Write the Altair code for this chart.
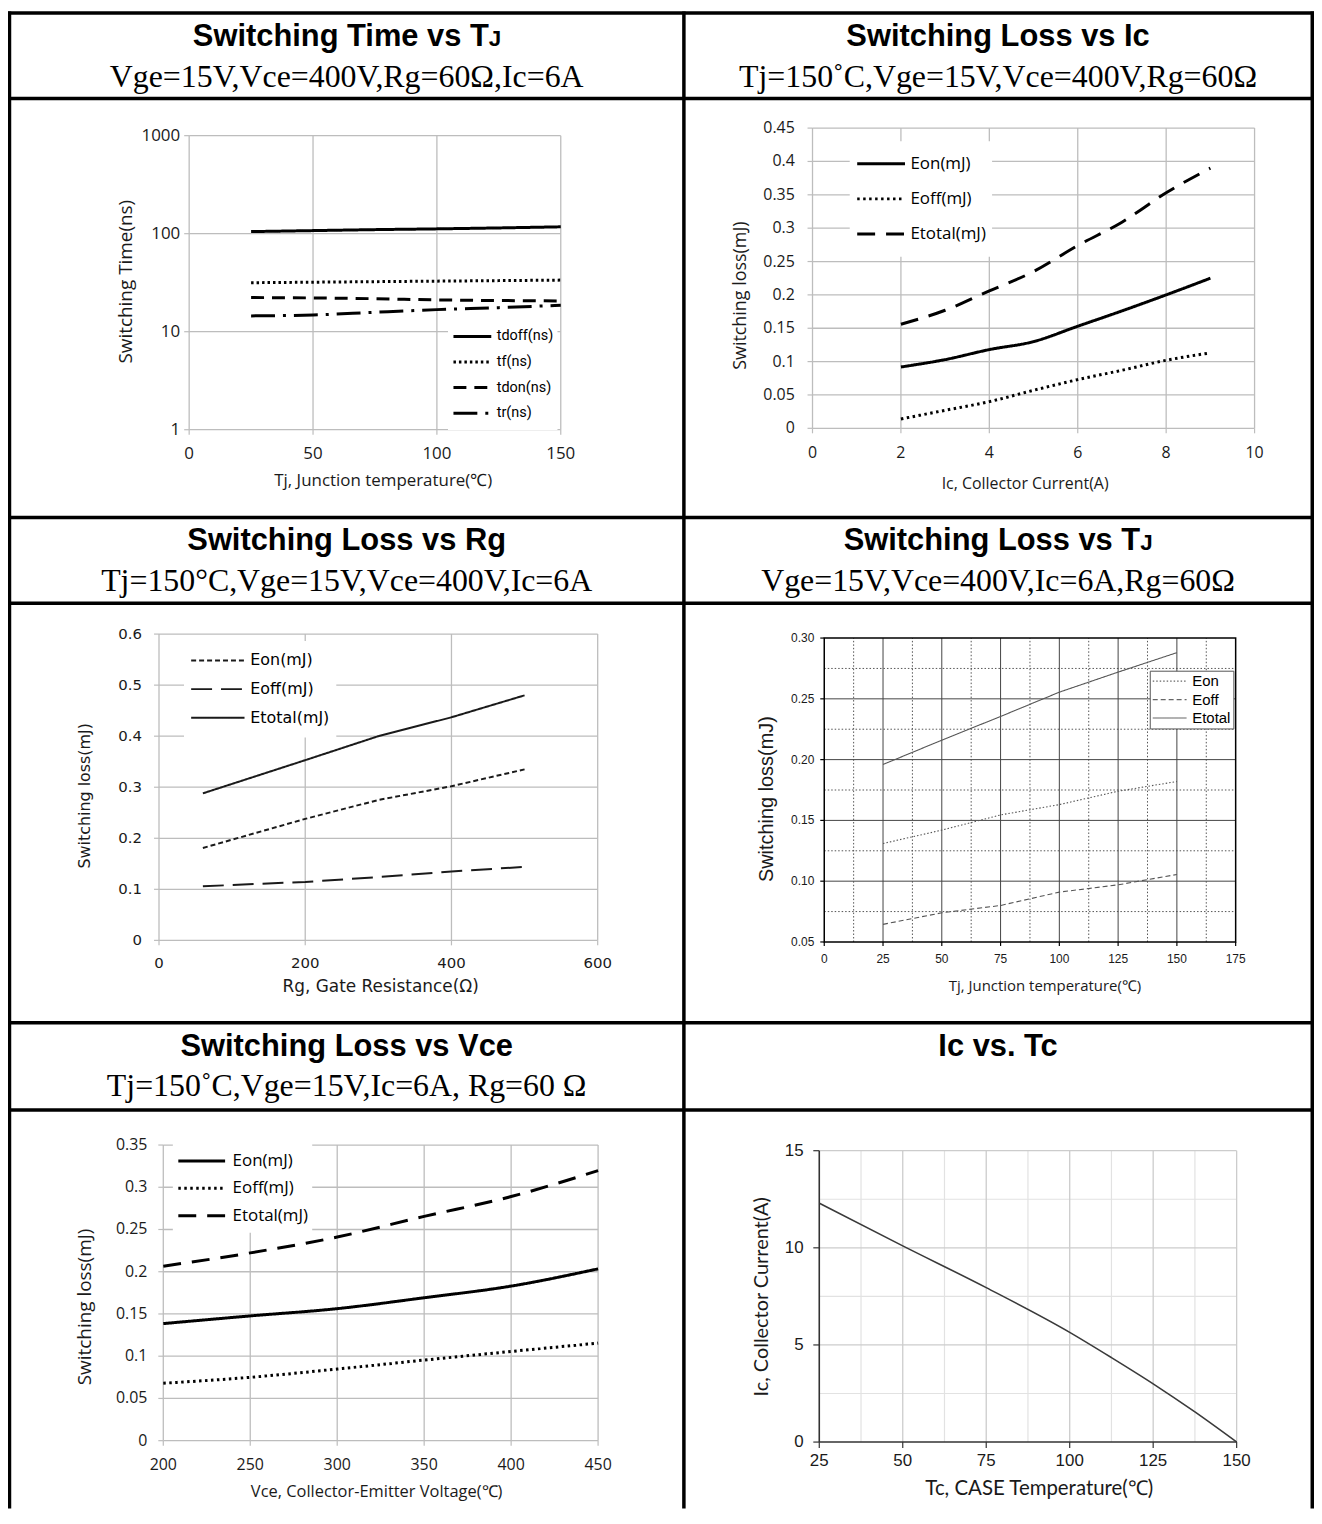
import altair as alt
import pandas as pd

W, H = 1312, 1504

# ---------------- header texts ----------------
TITLES = ["Switching Time vs T", "Switching Loss vs Ic", "Switching Loss vs Rg",
          "Switching Loss vs T", "Switching Loss vs Vce", "Ic vs. Tc"]
TITLE_SUFFIX = ["J", "", "", "J", "", ""]
SUBTITLES = ["Vge=15V,Vce=400V,Rg=60Ω,Ic=6A", "Tj=150˚C,Vge=15V,Vce=400V,Rg=60Ω",
             "Tj=150°C,Vge=15V,Vce=400V,Ic=6A", "Vge=15V,Vce=400V,Ic=6A,Rg=60Ω",
             "Tj=150˚C,Vge=15V,Ic=6A, Rg=60 Ω", ""]

# ---------------- panel 1: switching time vs Tj ----------------
P1_TJ = [25, 50, 75, 100, 125, 150]
P1_SERIES = ["tdoff(ns)", "tf(ns)", "tdon(ns)", "tr(ns)"]
P1_TDOFF = [105, 107.5, 110, 112, 114.5, 117.5]
P1_TF = [31.6, 32.0, 32.4, 32.8, 33.2, 33.6]
P1_TDON = [22.3, 22.1, 21.7, 21.1, 20.8, 20.6]
P1_TR = [14.5, 14.8, 15.8, 16.8, 17.6, 18.6]
P1_XTICKS = [0, 50, 100, 150]
P1_XLABELS = ["0", "50", "100", "150"]
P1_YTICKS = [1, 10, 100, 1000]
P1_YLABELS = ["1", "10", "100", "1000"]
P1_XTITLE = "Tj, Junction temperature(℃)"
P1_YTITLE = "Switching Time(ns)"

# ---------------- panel 2: switching loss vs Ic ----------------
P2_IC = [2, 3, 4, 5, 6, 7, 8, 9]
P2_SERIES = ["Eon(mJ)", "Eoff(mJ)", "Etotal(mJ)"]
P2_EON = [0.092, 0.103, 0.118, 0.130, 0.153, 0.176, 0.200, 0.225]
P2_EOFF = [0.014, 0.027, 0.040, 0.057, 0.073, 0.087, 0.102, 0.113]
P2_ETOTAL = [0.156, 0.177, 0.206, 0.235, 0.274, 0.309, 0.353, 0.390]
P2_XTICKS = [0, 2, 4, 6, 8, 10]
P2_XLABELS = ["0", "2", "4", "6", "8", "10"]
P2_YTICKS = [0, 0.05, 0.1, 0.15, 0.2, 0.25, 0.3, 0.35, 0.4, 0.45]
P2_YLABELS = ["0", "0.05", "0.1", "0.15", "0.2", "0.25", "0.3", "0.35", "0.4", "0.45"]
P2_XTITLE = "Ic, Collector Current(A)"
P2_YTITLE = "Switching loss(mJ)"

# ---------------- panel 3: switching loss vs Rg ----------------
P3_RG = [60, 200, 300, 400, 500]
P3_SERIES = ["Eon(mJ)", "Eoff(mJ)", "Etotal(mJ)"]
P3_EON = [0.181, 0.238, 0.275, 0.302, 0.335]
P3_EOFF = [0.106, 0.1145, 0.124, 0.135, 0.144]
P3_ETOTAL = [0.288, 0.353, 0.400, 0.437, 0.480]
P3_XTICKS = [0, 200, 400, 600]
P3_XLABELS = ["0", "200", "400", "600"]
P3_YTICKS = [0, 0.1, 0.2, 0.3, 0.4, 0.5, 0.6]
P3_YLABELS = ["0", "0.1", "0.2", "0.3", "0.4", "0.5", "0.6"]
P3_XTITLE = "Rg, Gate Resistance(Ω)"
P3_YTITLE = "Switching loss(mJ)"

# ---------------- panel 4: switching loss vs Tj ----------------
P4_TJ = [25, 50, 75, 100, 125, 150]
P4_SERIES = ["Eon", "Eoff", "Etotal"]
P4_EON = [0.131, 0.142, 0.1545, 0.163, 0.174, 0.182]
P4_EOFF = [0.0645, 0.074, 0.080, 0.091, 0.097, 0.1055]
P4_ETOTAL = [0.196, 0.216, 0.2355, 0.2555, 0.272, 0.288]
P4_XTICKS = [0, 25, 50, 75, 100, 125, 150, 175]
P4_XLABELS = ["0", "25", "50", "75", "100", "125", "150", "175"]
P4_YTICKS = [0.05, 0.10, 0.15, 0.20, 0.25, 0.30]
P4_YLABELS = ["0.05", "0.10", "0.15", "0.20", "0.25", "0.30"]
P4_XMINOR = [12.5, 37.5, 62.5, 87.5, 112.5, 137.5, 162.5]
P4_YMINOR = [0.075, 0.125, 0.175, 0.225, 0.275]
P4_XTITLE = "Tj, Junction temperature(℃)"
P4_YTITLE = "Switching loss(mJ)"

# ---------------- panel 5: switching loss vs Vce ----------------
P5_VCE = [200, 250, 300, 350, 400, 450]
P5_SERIES = ["Eon(mJ)", "Eoff(mJ)", "Etotal(mJ)"]
P5_EON = [0.1386, 0.1477, 0.1563, 0.1692, 0.183, 0.2034]
P5_EOFF = [0.068, 0.075, 0.0848, 0.0954, 0.1056, 0.1155]
P5_ETOTAL = [0.2066, 0.2223, 0.2411, 0.2655, 0.289, 0.3197]
P5_XTICKS = [200, 250, 300, 350, 400, 450]
P5_XLABELS = ["200", "250", "300", "350", "400", "450"]
P5_YTICKS = [0, 0.05, 0.1, 0.15, 0.2, 0.25, 0.3, 0.35]
P5_YLABELS = ["0", "0.05", "0.1", "0.15", "0.2", "0.25", "0.3", "0.35"]
P5_XTITLE = "Vce, Collector-Emitter Voltage(℃)"
P5_YTITLE = "Switching loss(mJ)"

# ---------------- panel 6: Ic vs Tc ----------------
P6_TC = [25, 50, 75, 100, 112.5, 125, 137.5, 150]
P6_IC = [12.3, 10.1, 7.95, 5.65, 4.35, 3.0, 1.55, 0]
P6_XTICKS = [25, 50, 75, 100, 125, 150]
P6_XLABELS = ["25", "50", "75", "100", "125", "150"]
P6_YTICKS = [0, 5, 10, 15]
P6_YLABELS = ["0", "5", "10", "15"]
P6_XMINOR = [37.5, 62.5, 87.5, 112.5, 137.5]
P6_YMINOR = [2.5, 7.5, 12.5]
P6_XTITLE = "Tc, CASE Temperature(℃)"
P6_YTITLE = "Ic, Collector Current(A)"


# ---------------- layout helpers (reference pixel -> chart pixel) ----------------
def X(r):
    return r - 4


def Y(r):
    return r - 4.5


TXT = "#1a1a1a"


def long_df(xs, series, cols):
    rows = []
    for name, vals in zip(series, cols):
        for xv, yv in zip(xs, vals):
            rows.append({"x": xv, "y": yv, "s": name})
    return pd.DataFrame(rows)


def vgrid(vals, y0, y1, xs, ys, color, width, dash=None):
    df = pd.DataFrame({"x": vals, "y": [y0] * len(vals), "y2": [y1] * len(vals)})
    kw = dict(color=color, strokeWidth=width)
    if dash:
        kw["strokeDash"] = dash
    return alt.Chart(df).mark_rule(**kw).encode(
        x=alt.X("x:Q", scale=xs, axis=None),
        y=alt.Y("y:Q", scale=ys, axis=None),
        y2="y2:Q",
    )


def hgrid(vals, x0, x1, xs, ys, color, width, dash=None):
    df = pd.DataFrame({"y": vals, "x": [x0] * len(vals), "x2": [x1] * len(vals)})
    kw = dict(color=color, strokeWidth=width)
    if dash:
        kw["strokeDash"] = dash
    return alt.Chart(df).mark_rule(**kw).encode(
        y=alt.Y("y:Q", scale=ys, axis=None),
        x=alt.X("x:Q", scale=xs, axis=None),
        x2="x2:Q",
    )


def x_axis_layers(vals, labels, xs, axis_y, tick, tcolor, label_y, font, fsize):
    df = pd.DataFrame({"x": vals, "label": labels})
    out = []
    if tick:
        out.append(alt.Chart(df).mark_rule(color=tcolor, strokeWidth=1.2).encode(
            x=alt.X("x:Q", scale=xs, axis=None), y=alt.value(axis_y), y2=alt.value(axis_y + tick)))
    out.append(alt.Chart(df).mark_text(font=font, fontSize=fsize, color=TXT, align="center",
                                       baseline="middle").encode(
        x=alt.X("x:Q", scale=xs, axis=None), y=alt.value(label_y), text="label:N"))
    return out


def y_axis_layers(vals, labels, ys, axis_x, tick, tcolor, label_x, font, fsize):
    df = pd.DataFrame({"y": vals, "label": labels})
    out = []
    if tick:
        out.append(alt.Chart(df).mark_rule(color=tcolor, strokeWidth=1.2).encode(
            y=alt.Y("y:Q", scale=ys, axis=None), x=alt.value(axis_x - tick), x2=alt.value(axis_x)))
    out.append(alt.Chart(df).mark_text(font=font, fontSize=fsize, color=TXT, align="right",
                                       baseline="middle").encode(
        y=alt.Y("y:Q", scale=ys, axis=None), x=alt.value(label_x), text="label:N"))
    return out


def title_text(txt, x, y, font, fsize, angle=0):
    return alt.Chart(pd.DataFrame({"t": [txt]})).mark_text(
        font=font, fontSize=fsize, color=TXT, align="center", baseline="middle", angle=angle
    ).encode(x=alt.value(x), y=alt.value(y), text="t:N")


def legend(lx, ly, pad, sym, clip, rowpad, loff, font, fsize, swidth, scolor, stroke=None):
    kw = dict(orient="none", legendX=lx, legendY=ly, direction="vertical", title=None,
              padding=pad, fillColor="white", symbolType="stroke", symbolSize=sym * sym,
              symbolStrokeWidth=swidth, symbolStrokeColor=scolor, clipHeight=clip,
              rowPadding=rowpad, labelOffset=loff, labelFont=font, labelFontSize=fsize,
              labelColor="black", zindex=1)
    if stroke:
        kw["strokeColor"] = stroke
    return alt.Legend(**kw)


layers = []

# ---------------- table borders ----------------
BORDER = 3.5
for yy in [1.5, 87.5, 508.5, 594.5, 1016, 1103.5]:
    layers.append(alt.Chart(pd.DataFrame({"a": [0]})).mark_rule(color="black", strokeWidth=BORDER)
                  .encode(x=alt.value(0), x2=alt.value(W), y=alt.value(yy)))
for xx in [1.5, 679, 1310.25]:
    layers.append(alt.Chart(pd.DataFrame({"a": [0]})).mark_rule(color="black", strokeWidth=BORDER)
                  .encode(x=alt.value(xx), y=alt.value(0), y2=alt.value(H)))

# ---------------- header texts ----------------
COL_C = [340.25, 994.6]
TITLE_BASE = [34.5, 541.5, 1049]
SUB_BASE = [75.5, 582.5, 1090]
TFS, JFS = 31, 22.5
for i in range(6):
    r, c = divmod(i, 2)
    cx = COL_C[c]
    if TITLE_SUFFIX[i]:
        split = cx - (9.614 * TFS + 0.556 * JFS) / 2 + 9.614 * TFS
        layers.append(alt.Chart(pd.DataFrame({"t": [TITLES[i]]})).mark_text(
            font="Liberation Sans", fontSize=TFS, fontWeight="bold", align="right",
            baseline="alphabetic", color="black").encode(
            x=alt.value(split), y=alt.value(TITLE_BASE[r]), text="t:N"))
        layers.append(alt.Chart(pd.DataFrame({"t": [TITLE_SUFFIX[i]]})).mark_text(
            font="Liberation Sans", fontSize=JFS, fontWeight="bold", align="left",
            baseline="alphabetic", color="black").encode(
            x=alt.value(split), y=alt.value(TITLE_BASE[r]), text="t:N"))
    else:
        layers.append(alt.Chart(pd.DataFrame({"t": [TITLES[i]]})).mark_text(
            font="Liberation Sans", fontSize=TFS, fontWeight="bold", align="center",
            baseline="alphabetic", color="black").encode(
            x=alt.value(cx), y=alt.value(TITLE_BASE[r]), text="t:N"))
    if SUBTITLES[i]:
        layers.append(alt.Chart(pd.DataFrame({"t": [SUBTITLES[i]]})).mark_text(
            font="Liberation Serif", fontSize=32, align="center",
            baseline="alphabetic", color="black").encode(
            x=alt.value(cx), y=alt.value(SUB_BASE[r]), text="t:N"))

EXCEL_GRID = "#bdbdbd"

# ---------------- panel 1 ----------------
xs1 = alt.Scale(domain=[0, 150], range=[X(186), X(559.3)], nice=False, zero=False)
ys1 = alt.Scale(type="log", domain=[1, 1000], range=[Y(424.7), Y(129.3)], nice=False)
df1 = long_df(P1_TJ, P1_SERIES, [P1_TDOFF, P1_TF, P1_TDON, P1_TR])
p1 = alt.layer(
    vgrid(P1_XTICKS, 1, 1000, xs1, ys1, EXCEL_GRID, 1.3),
    hgrid(P1_YTICKS, 0, 150, xs1, ys1, EXCEL_GRID, 1.3),
    *x_axis_layers(P1_XTICKS, P1_XLABELS, xs1, Y(424.7), 5, EXCEL_GRID, Y(449), "Open Sans", 17),
    *y_axis_layers(P1_YTICKS, P1_YLABELS, ys1, X(186), 5, EXCEL_GRID, X(177), "Open Sans", 17),
    title_text(P1_XTITLE, X(381), Y(476), "Open Sans", 17),
    title_text(P1_YTITLE, X(123), Y(276), "Open Sans", 19, 270),
    alt.Chart(df1).mark_line(color="black", strokeWidth=3, interpolate="monotone").encode(
        x=alt.X("x:Q", scale=xs1, axis=None),
        y=alt.Y("y:Q", scale=ys1, axis=None),
        strokeDash=alt.StrokeDash("s:N", scale=alt.Scale(domain=P1_SERIES,
                                                         range=[[1, 0], [2.5, 3], [13, 8], [24, 8, 3, 8]]),
                                  legend=legend(X(446), Y(315), 4, 38, 24, 1.7, 4, "Roboto", 14.5, 3, "black")),
    ),
)
layers.append(p1)

# ---------------- panel 2 ----------------
xs2 = alt.Scale(domain=[0, 10], range=[X(812.2), X(1256.3)], nice=False, zero=False)
ys2 = alt.Scale(domain=[0, 0.45], range=[Y(423.3), Y(121.7)], nice=False, zero=False)
df2 = long_df(P2_IC, P2_SERIES, [P2_EON, P2_EOFF, P2_ETOTAL])
p2 = alt.layer(
    vgrid(P2_XTICKS, 0, 0.45, xs2, ys2, EXCEL_GRID, 1.3),
    hgrid(P2_YTICKS, 0, 10, xs2, ys2, EXCEL_GRID, 1.3),
    *x_axis_layers(P2_XTICKS, P2_XLABELS, xs2, Y(423.3), 5, EXCEL_GRID, Y(448.3), "Open Sans", 16),
    *y_axis_layers(P2_YTICKS, P2_YLABELS, ys2, X(812.2), 5, EXCEL_GRID, X(794.4), "Open Sans", 16),
    title_text(P2_XTITLE, X(1025.8), Y(479.3), "Open Sans", 16),
    title_text(P2_YTITLE, X(740.7), Y(290), "Open Sans", 18, 270),
    alt.Chart(df2).mark_line(color="black", strokeWidth=3, interpolate="monotone").encode(
        x=alt.X("x:Q", scale=xs2, axis=None),
        y=alt.Y("y:Q", scale=ys2, axis=None),
        strokeDash=alt.StrokeDash("s:N", scale=alt.Scale(domain=P2_SERIES,
                                                         range=[[1, 0], [2.5, 3.5], [18, 11]]),
                                  legend=legend(X(849.6), Y(135), 6, 48, 33, 2.3, 4, "Open Sans", 17, 3, "black")),
    ),
)
layers.append(p2)

# ---------------- panel 3 ----------------
xs3 = alt.Scale(domain=[0, 600], range=[X(155.7), X(596.4)], nice=False, zero=False)
ys3 = alt.Scale(domain=[0, 0.6], range=[Y(937.7), Y(630)], nice=False, zero=False)
df3 = long_df(P3_RG, P3_SERIES, [P3_EON, P3_EOFF, P3_ETOTAL])
p3 = alt.layer(
    vgrid(P3_XTICKS, 0, 0.6, xs3, ys3, EXCEL_GRID, 1.3),
    hgrid(P3_YTICKS, 0, 600, xs3, ys3, EXCEL_GRID, 1.3),
    *x_axis_layers(P3_XTICKS, P3_XLABELS, xs3, Y(937.7), 5, EXCEL_GRID, Y(960), "DejaVu Sans", 15),
    *y_axis_layers(P3_YTICKS, P3_YLABELS, ys3, X(155.7), 5, EXCEL_GRID, X(138.6), "DejaVu Sans", 15),
    title_text(P3_XTITLE, X(378.4), Y(985), "DejaVu Sans", 17),
    title_text(P3_YTITLE, X(81.4), Y(792.5), "DejaVu Sans", 16, 270),
    alt.Chart(df3).mark_line(color="#1a1a1a", strokeWidth=2).encode(
        x=alt.X("x:Q", scale=xs3, axis=None),
        y=alt.Y("y:Q", scale=ys3, axis=None),
        strokeDash=alt.StrokeDash("s:N", scale=alt.Scale(domain=P3_SERIES,
                                                         range=[[5, 3], [21, 9], [1, 0]]),
                                  legend=legend(X(180.8), Y(637), 6, 53.6, 27, 1.8, 4.6, "DejaVu Sans", 16, 2, "#1a1a1a")),
    ),
)
layers.append(p3)

# ---------------- panel 4 ----------------
xs4 = alt.Scale(domain=[0, 175], range=[X(824), X(1237.3)], nice=False, zero=False)
ys4 = alt.Scale(domain=[0.05, 0.30], range=[Y(939.3), Y(634)], nice=False, zero=False)
df4 = long_df(P4_TJ, P4_SERIES, [P4_EON, P4_EOFF, P4_ETOTAL])
frame4 = pd.DataFrame({"x": [P4_XTICKS[0]], "x2": [P4_XTICKS[-1]],
                       "y": [P4_YTICKS[0]], "y2": [P4_YTICKS[-1]]})
p4 = alt.layer(
    vgrid(P4_XMINOR, 0.05, 0.30, xs4, ys4, "#555555", 1, [1.5, 2]),
    hgrid(P4_YMINOR, 0, 175, xs4, ys4, "#555555", 1, [1.5, 2]),
    vgrid(P4_XTICKS[1:-1], 0.05, 0.30, xs4, ys4, "#444444", 1),
    hgrid(P4_YTICKS[1:-1], 0, 175, xs4, ys4, "#444444", 1),
    alt.Chart(frame4).mark_rect(fillOpacity=0, stroke="black", strokeWidth=1.5).encode(
        x=alt.X("x:Q", scale=xs4, axis=None), x2="x2:Q",
        y=alt.Y("y:Q", scale=ys4, axis=None), y2="y2:Q"),
    *x_axis_layers(P4_XTICKS, P4_XLABELS, xs4, Y(939.3), 4, "black", Y(956), "Liberation Sans", 12),
    *y_axis_layers(P4_YTICKS, P4_YLABELS, ys4, X(824), 4, "black", X(814), "Liberation Sans", 12),
    title_text(P4_XTITLE, X(1045.8), Y(984), "Open Sans", 15),
    title_text(P4_YTITLE, X(766.7), Y(795.8), "Liberation Sans", 20, 270),
    alt.Chart(df4).mark_line(color="#555555", strokeWidth=1.1).encode(
        x=alt.X("x:Q", scale=xs4, axis=None),
        y=alt.Y("y:Q", scale=ys4, axis=None),
        strokeDash=alt.StrokeDash("s:N", scale=alt.Scale(domain=P4_SERIES,
                                                         range=[[1.5, 2], [5, 3], [1, 0]]),
                                  legend=legend(X(1151), Y(666.8), 2, 34, 17, 1.5, 4.7, "Liberation Sans", 15, 1.1,
                                                "#666666", stroke="#555555")),
    ),
)
layers.append(p4)

# ---------------- panel 5 ----------------
xs5 = alt.Scale(domain=[200, 450], range=[X(160), X(596.8)], nice=False, zero=False)
ys5 = alt.Scale(domain=[0, 0.35], range=[Y(1440.3), Y(1143.3)], nice=False, zero=False)
df5 = long_df(P5_VCE, P5_SERIES, [P5_EON, P5_EOFF, P5_ETOTAL])
p5 = alt.layer(
    vgrid(P5_XTICKS, 0, 0.35, xs5, ys5, EXCEL_GRID, 1.3),
    hgrid(P5_YTICKS, 200, 450, xs5, ys5, EXCEL_GRID, 1.3),
    *x_axis_layers(P5_XTICKS, P5_XLABELS, xs5, Y(1440.3), 5, EXCEL_GRID, Y(1465), "Open Sans", 16),
    *y_axis_layers(P5_YTICKS, P5_YLABELS, ys5, X(160), 5, EXCEL_GRID, X(144), "Open Sans", 16),
    title_text(P5_XTITLE, X(374.3), Y(1491.7), "Open Sans", 16.5),
    title_text(P5_YTITLE, X(81.4), Y(1306), "Open Sans", 19, 270),
    alt.Chart(df5).mark_line(color="black", strokeWidth=3, interpolate="monotone").encode(
        x=alt.X("x:Q", scale=xs5, axis=None),
        y=alt.Y("y:Q", scale=ys5, axis=None),
        strokeDash=alt.StrokeDash("s:N", scale=alt.Scale(domain=P5_SERIES,
                                                         range=[[1, 0], [2.5, 3.5], [18, 11]]),
                                  legend=legend(X(169.6), Y(1142.3), 4, 47, 26, 1.5, 6, "Open Sans", 17, 3, "black")),
    ),
)
layers.append(p5)

# ---------------- panel 6 ----------------
xs6 = alt.Scale(domain=[25, 150], range=[X(819), X(1238.3)], nice=False, zero=False)
ys6 = alt.Scale(domain=[0, 15], range=[Y(1441.7), Y(1149)], nice=False, zero=False)
df6 = pd.DataFrame({"x": P6_TC, "y": P6_IC})
p6 = alt.layer(
    vgrid(P6_XMINOR, 0, 15, xs6, ys6, "#e2e2e2", 1.2),
    hgrid(P6_YMINOR, 25, 150, xs6, ys6, "#e2e2e2", 1.2),
    vgrid(P6_XTICKS[1:], 0, 15, xs6, ys6, "#cccccc", 1.3),
    hgrid(P6_YTICKS[1:], 25, 150, xs6, ys6, "#cccccc", 1.3),
    vgrid(P6_XTICKS[:1], 0, 15, xs6, ys6, "#333333", 1.6),
    hgrid(P6_YTICKS[:1], 25, 150, xs6, ys6, "#333333", 1.6),
    *x_axis_layers(P6_XTICKS, P6_XLABELS, xs6, Y(1441.7), 6, "#333333", Y(1461), "Liberation Sans", 17),
    *y_axis_layers(P6_YTICKS, P6_YLABELS, ys6, X(819), 6, "#333333", X(803.3), "Liberation Sans", 17),
    title_text(P6_XTITLE, X(1040), Y(1489.3), "Lato", 20.5),
    title_text(P6_YTITLE, X(761.7), Y(1295.8), "Lato", 20, 270),
    alt.Chart(df6).mark_line(color="#3a3a3a", strokeWidth=1.6, interpolate="monotone").encode(
        x=alt.X("x:Q", scale=xs6, axis=None),
        y=alt.Y("y:Q", scale=ys6, axis=None),
    ),
)
layers.append(p6)

chart = alt.layer(*layers).resolve_scale(
    x="independent", y="independent", strokeDash="independent"
).properties(
    width=W, height=H, padding=0, autosize=alt.AutoSizeParams(type="none"), background="white"
).configure_view(stroke=None)

chart.save("out.html", embed_options={"renderer": "svg", "actions": False})
